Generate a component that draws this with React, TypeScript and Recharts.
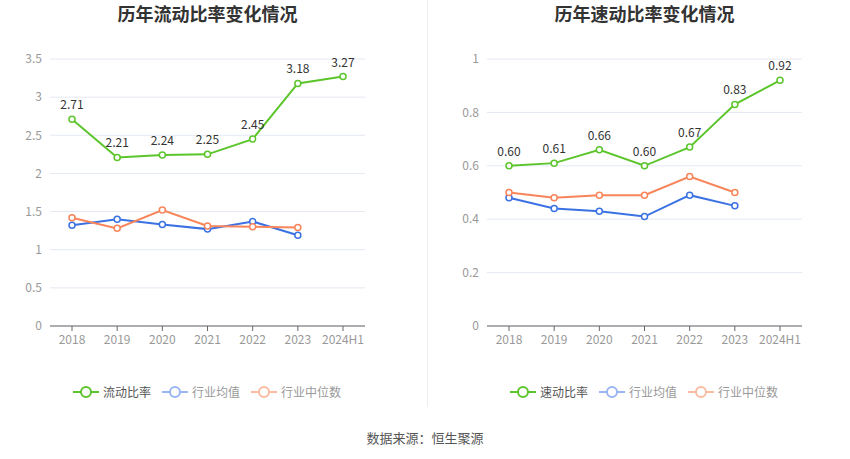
import React from 'react';
import { LineChart, Line, XAxis, YAxis, CartesianGrid, LabelList } from 'recharts';

const years = ['2018', '2019', '2020', '2021', '2022', '2023', '2024H1'];

const currentRatio = [2.71, 2.21, 2.24, 2.25, 2.45, 3.18, 3.27];
const currentIndustryAvg = [1.32, 1.4, 1.33, 1.27, 1.37, 1.19, null];
const currentIndustryMedian = [1.42, 1.28, 1.52, 1.31, 1.3, 1.29, null];

const quickRatio = [0.6, 0.61, 0.66, 0.6, 0.67, 0.83, 0.92];
const quickIndustryAvg = [0.48, 0.44, 0.43, 0.41, 0.49, 0.45, null];
const quickIndustryMedian = [0.5, 0.48, 0.49, 0.49, 0.56, 0.5, null];

const leftTicks = [0, 0.5, 1, 1.5, 2, 2.5, 3, 3.5];
const rightTicks = [0, 0.2, 0.4, 0.6, 0.8, 1];

const GREEN = '#5bc52b';
const BLUE = '#3b72e3';
const ORANGE = '#f8845a';
const FONT = '"Noto Sans CJK SC", "Noto Sans", sans-serif';

const buildRows = (main: number[], avg: (number | null)[], median: (number | null)[]) =>
  years.map((y, i) => ({ year: y, main: main[i], avg: avg[i], median: median[i] }));

const LegendItem = ({ color, text, textColor }: { color: string; text: string; textColor: string }) => (
  <div style={{ display: 'flex', alignItems: 'center', marginRight: 11 }}>
    <svg width={26} height={14}>
      <line x1={0} y1={7} x2={26} y2={7} stroke={color} strokeWidth={2} />
      <circle cx={13} cy={7} r={5} fill="#fff" stroke={color} strokeWidth={2} />
    </svg>
    <span style={{ marginLeft: 4, fontSize: 12, color: textColor }}>{text}</span>
  </div>
);

interface PanelProps {
  left: number;
  title: string;
  mainName: string;
  rows: any[];
  ticks: number[];
  max: number;
}

const Panel: React.FC<PanelProps> = ({ left, title, mainName, rows, ticks, max }) => (
  <div style={{ position: 'absolute', left, top: 0, width: 430, height: 459 }}>
    <div
      style={{
        position: 'absolute', left: 0, width: 415, top: 0, textAlign: 'center',
        fontSize: 18, fontWeight: 'bold', color: '#333',
      }}
    >
      {title}
    </div>
    <div style={{ position: 'absolute', left: 0, top: 0 }}>
      <LineChart width={430} height={356} data={rows} margin={{ top: 59, right: 65, left: 20, bottom: 0 }}>
        <CartesianGrid vertical={false} stroke="#e3e8f2" />
        <XAxis
          dataKey="year"
          height={30}
          stroke="#666"
          tick={{ fill: '#999', fontSize: 12 }}
          tickSize={5}
          tickMargin={4}
          interval={0}
          padding={{ left: 22, right: 22 }}
        />
        <YAxis
          width={30}
          domain={[0, max]}
          ticks={ticks}
          axisLine={false}
          tickLine={false}
          tick={{ fill: '#999', fontSize: 12 }}
          tickFormatter={(v: number) => String(v)}
        />
        <Line dataKey="avg" stroke={BLUE} strokeWidth={2} dot={{ r: 3, fill: '#fff', strokeWidth: 1.5 }} isAnimationActive={false} />
        <Line dataKey="median" stroke={ORANGE} strokeWidth={2} dot={{ r: 3, fill: '#fff', strokeWidth: 1.5 }} isAnimationActive={false} />
        <Line dataKey="main" stroke={GREEN} strokeWidth={2} dot={{ r: 3, fill: '#fff', strokeWidth: 1.5 }} isAnimationActive={false}>
          <LabelList
            dataKey="main"
            position="top"
            offset={10}
            fill="#333"
            fontSize={12}
            formatter={(v: any) => Number(v).toFixed(2)}
          />
        </Line>
      </LineChart>
    </div>
    <div style={{ position: 'absolute', left: 73, top: 383, display: 'flex' }}>
      <LegendItem color={GREEN} text={mainName} textColor="#555" />
      <LegendItem color="#9ab6f2" text="行业均值" textColor="#999" />
      <LegendItem color="#fbbba3" text="行业中位数" textColor="#999" />
    </div>
  </div>
);

export default function App() {
  return (
    <div style={{ position: 'relative', width: 850, height: 459, background: '#fff', fontFamily: FONT }}>
      <style>{'body{margin:0}'}</style>
      <Panel
        left={0}
        title="历年流动比率变化情况"
        mainName="流动比率"
        rows={buildRows(currentRatio, currentIndustryAvg, currentIndustryMedian)}
        ticks={leftTicks}
        max={3.5}
      />
      <div style={{ position: 'absolute', left: 427, top: 0, width: 1, height: 407, background: '#eee' }} />
      <Panel
        left={437}
        title="历年速动比率变化情况"
        mainName="速动比率"
        rows={buildRows(quickRatio, quickIndustryAvg, quickIndustryMedian)}
        ticks={rightTicks}
        max={1}
      />
      <div style={{ position: 'absolute', left: 0, width: 850, top: 428, textAlign: 'center', fontSize: 13, color: '#555' }}>
        数据来源：恒生聚源
      </div>
    </div>
  );
}
